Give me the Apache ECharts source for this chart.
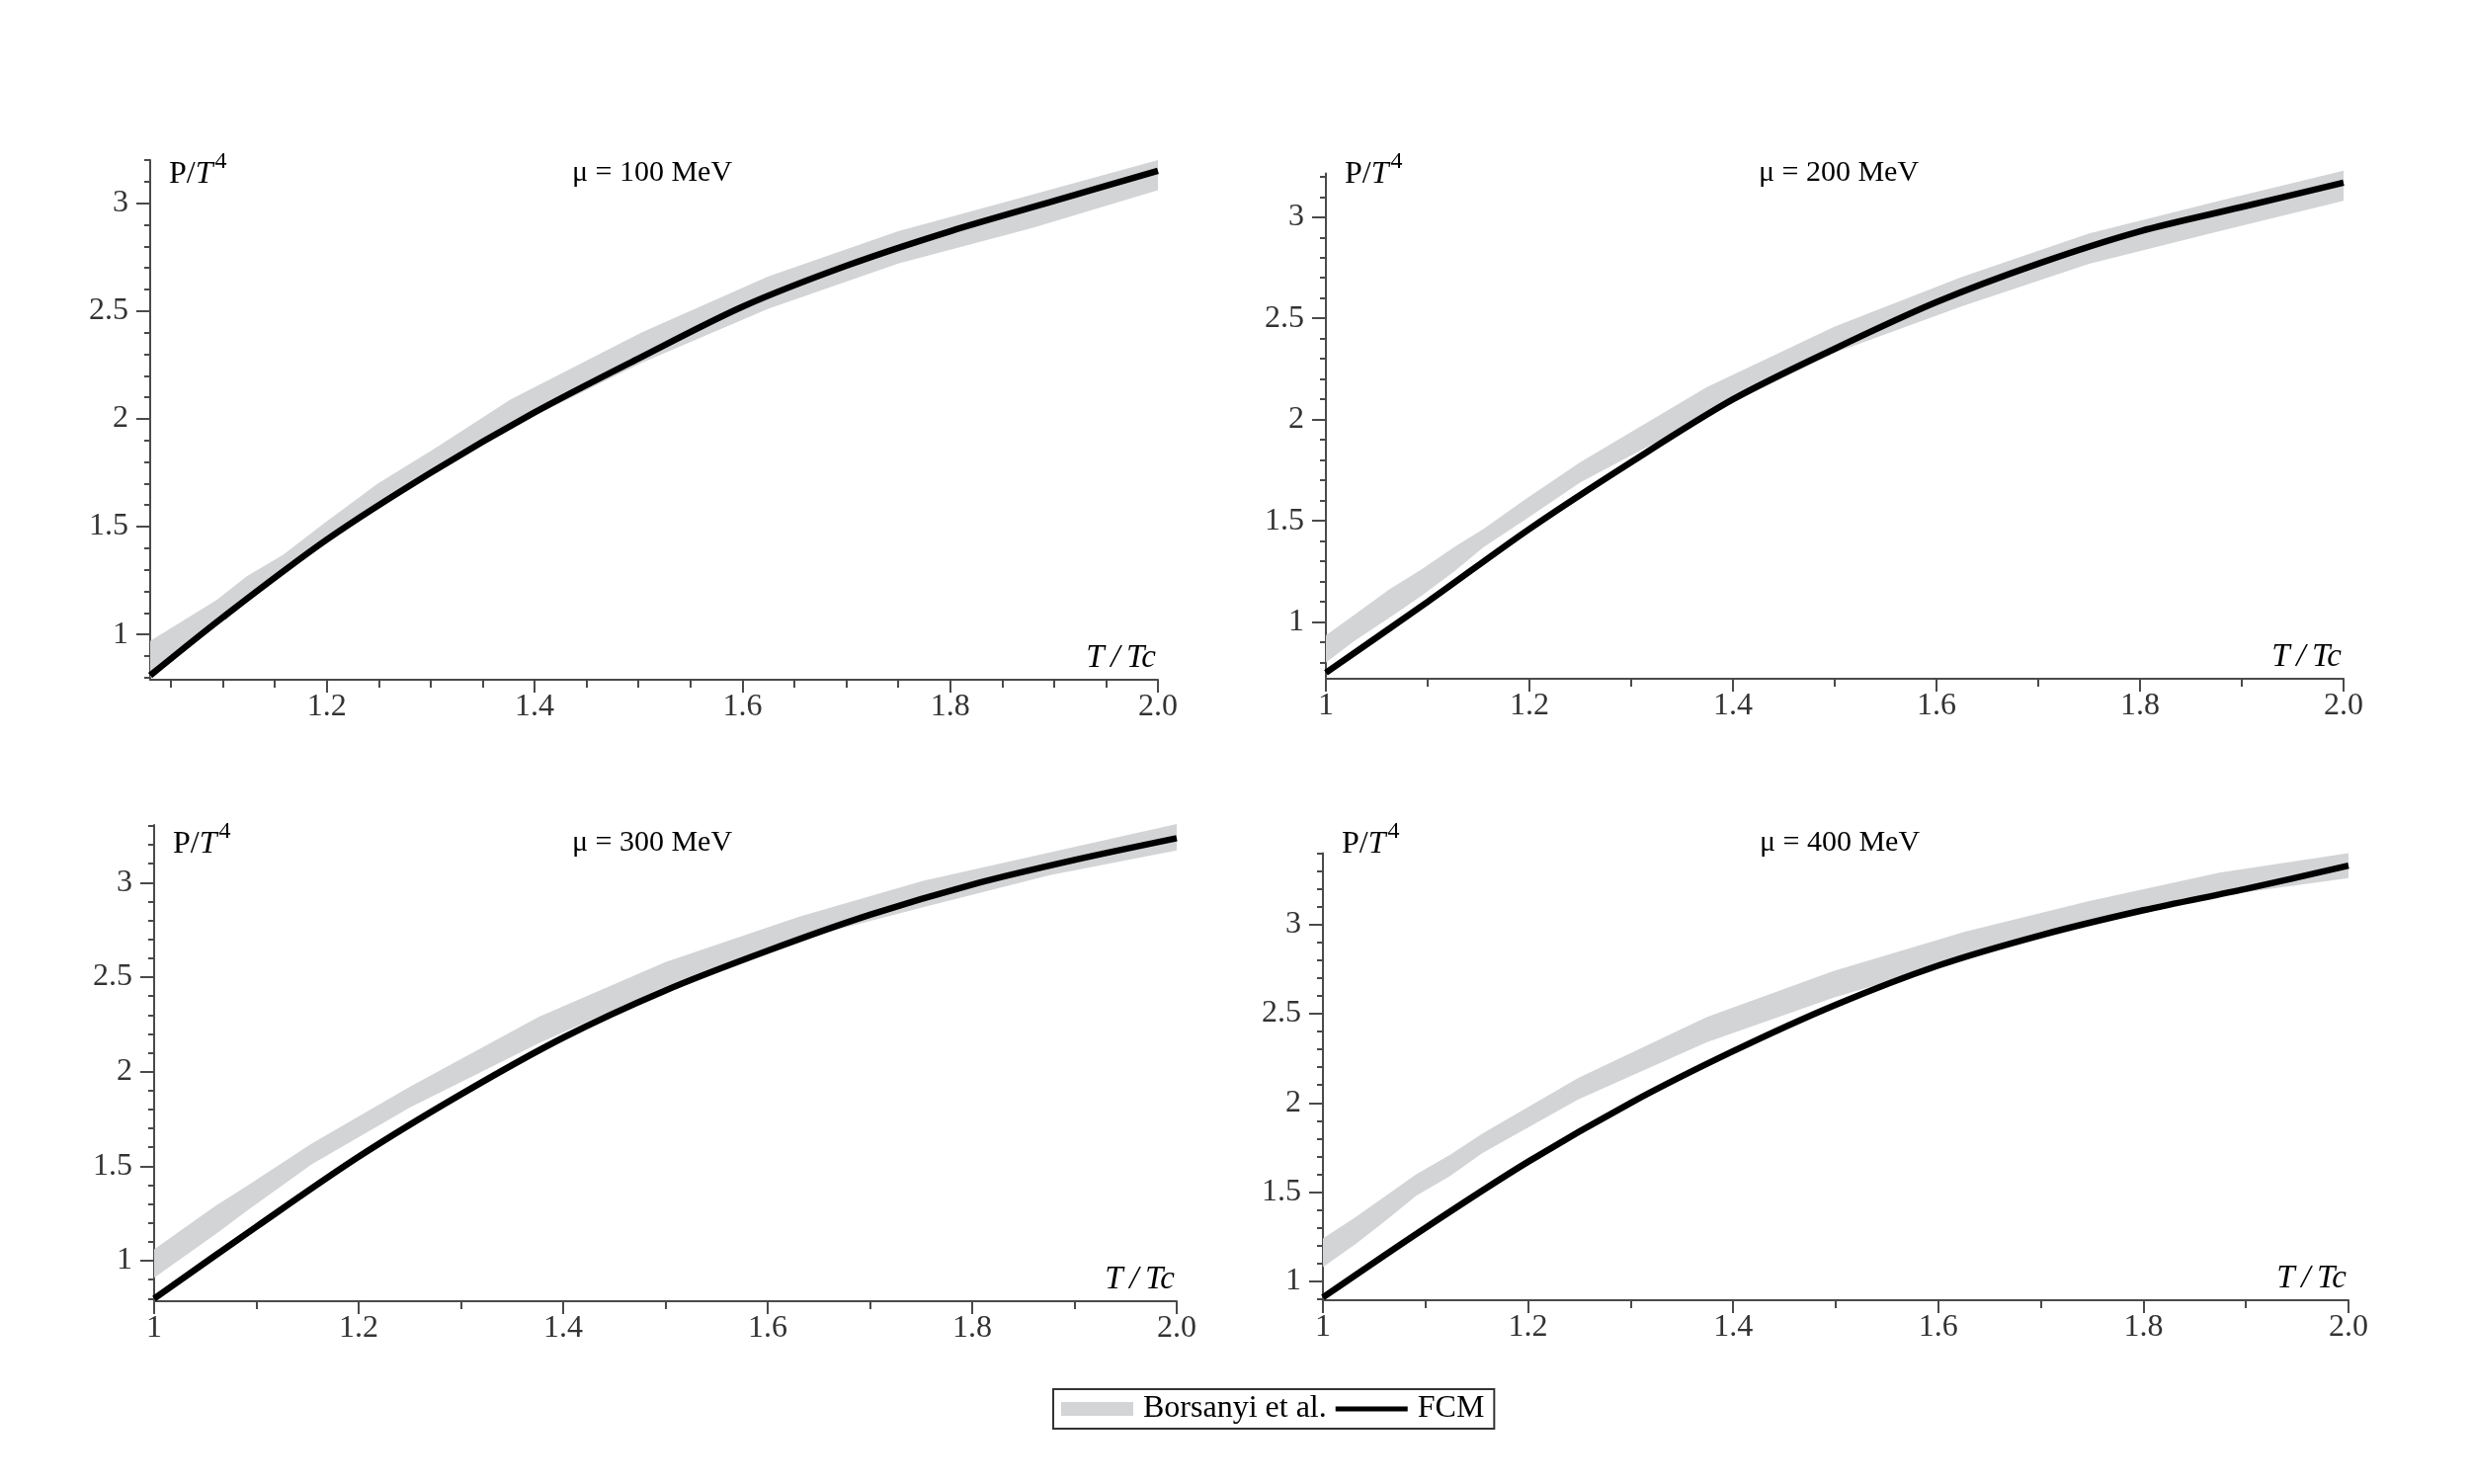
<!DOCTYPE html>
<html>
<head>
<meta charset="utf-8">
<script src="https://cdn.jsdelivr.net/npm/echarts@6/dist/echarts.min.js"></script>
<style>html,body{margin:0;padding:0;background:#fff}#c{width:2502px;height:1502px}</style>
</head>
<body>
<div id="c"></div>
<script>
// ---------------- data ----------------
const panelTitles = ['μ = 100 MeV', 'μ = 200 MeV', 'μ = 300 MeV', 'μ = 400 MeV'];

// FCM curves (T/Tc, P/T^4)
const fcmX_100 = [1.03, 1.1, 1.2, 1.3, 1.4, 1.5, 1.6, 1.7, 1.8, 1.9, 2.0];
const fcmY_100 = [0.81, 1.08, 1.44, 1.75, 2.03, 2.28, 2.52, 2.71, 2.87, 3.01, 3.15];
const fcmX_200 = [1.0, 1.1, 1.2, 1.3, 1.4, 1.5, 1.6, 1.7, 1.8, 1.9, 2.0];
const fcmY_200 = [0.75, 1.10, 1.46, 1.79, 2.10, 2.35, 2.58, 2.77, 2.93, 3.05, 3.17];
const fcmX_300 = [1.0, 1.1, 1.2, 1.3, 1.4, 1.5, 1.6, 1.7, 1.8, 1.9, 2.0];
const fcmY_300 = [0.80, 1.18, 1.55, 1.88, 2.18, 2.43, 2.64, 2.83, 2.99, 3.12, 3.235];
const fcmX_400 = [1.0, 1.1, 1.2, 1.3, 1.4, 1.5, 1.6, 1.7, 1.8, 1.9, 2.0];
const fcmY_400 = [0.91, 1.30, 1.67, 2.00, 2.29, 2.55, 2.77, 2.94, 3.08, 3.20, 3.33];

// Borsanyi et al. band (T/Tc, lower edge, upper edge)
const bandX_100  = [1.03, 1.094, 1.123, 1.158, 1.196, 1.249, 1.303, 1.377, 1.503, 1.625, 1.75, 1.879, 2.0];
const bandLo_100 = [0.80, 1.04, 1.15, 1.28, 1.42, 1.60, 1.76, 1.96, 2.26, 2.51, 2.72, 2.885, 3.06];
const bandUp_100 = [0.97, 1.16, 1.27, 1.37, 1.51, 1.70, 1.86, 2.09, 2.40, 2.66, 2.87, 3.04, 3.20];

const bandX_200  = [1.0, 1.029, 1.062, 1.094, 1.126, 1.155, 1.194, 1.25, 1.374, 1.5, 1.625, 1.75, 1.878, 2.0];
const bandLo_200 = [0.80, 0.91, 1.02, 1.13, 1.25, 1.37, 1.50, 1.69, 2.02, 2.33, 2.56, 2.77, 2.93, 3.08];
const bandUp_200 = [0.935, 1.04, 1.16, 1.26, 1.37, 1.46, 1.60, 1.79, 2.16, 2.46, 2.705, 2.92, 3.08, 3.23];

const bandX_300  = [1.0, 1.06, 1.092, 1.154, 1.25, 1.376, 1.5, 1.631, 1.752, 1.876, 2.0];
const bandLo_300 = [0.91, 1.14, 1.27, 1.51, 1.81, 2.15, 2.45, 2.70, 2.87, 3.04, 3.17];
const bandUp_300 = [1.06, 1.29, 1.40, 1.62, 1.92, 2.29, 2.58, 2.82, 3.01, 3.16, 3.31];

const bandX_400  = [1.0, 1.032, 1.059, 1.091, 1.124, 1.156, 1.249, 1.374, 1.498, 1.626, 1.746, 1.874, 2.0];
const bandLo_400 = [1.08, 1.21, 1.33, 1.48, 1.59, 1.72, 2.02, 2.34, 2.59, 2.81, 3.02, 3.16, 3.26];
const bandUp_400 = [1.24, 1.36, 1.47, 1.60, 1.71, 1.83, 2.14, 2.48, 2.74, 2.96, 3.13, 3.29, 3.40];

// axis ranges and ticks
const xMins = [1.03, 1.0, 1.0, 1.0];
const yMins = [0.79, 0.72, 0.786, 0.894];
const yMaxs = [3.20, 3.216, 3.305, 3.40];
const xMajorTL = [1.2, 1.4, 1.6, 1.8, 2.0];
const xMinorTL = [1.05, 1.1, 1.15, 1.25, 1.3, 1.35, 1.45, 1.5, 1.55, 1.65, 1.7, 1.75, 1.85, 1.9, 1.95];
const xMajor = [1.0, 1.2, 1.4, 1.6, 1.8, 2.0];
const xMinor = [1.1, 1.3, 1.5, 1.7, 1.9];
const yMajor = [1, 1.5, 2, 2.5, 3];
const yMinorAll = [0.8, 0.9, 1.1, 1.2, 1.3, 1.4, 1.6, 1.7, 1.8, 1.9, 2.1, 2.2, 2.3, 2.4, 2.6, 2.7, 2.8, 2.9, 3.1, 3.2, 3.3, 3.4];

const legendNames = ['Borsanyi et al.', 'FCM'];

// ---------------- layout / style ----------------
const grids = [
  { left: 152,  top: 162,   width: 1020, height: 526 },
  { left: 1342, top: 175.5, width: 1030, height: 511.5 },
  { left: 156,  top: 835,   width: 1035, height: 482 },
  { left: 1339, top: 863.5, width: 1038, height: 452.5 }
];
const titleX = [660, 1861, 660, 1862];
const rowY = [175, 175, 853, 853];
const FONT = 'Liberation Serif';
const AXIS_COLOR = '#4a4a4a';
const BAND_COLOR = '#d3d4d6';

const fcmX = [fcmX_100, fcmX_200, fcmX_300, fcmX_400];
const fcmY = [fcmY_100, fcmY_200, fcmY_300, fcmY_400];
const bandX = [bandX_100, bandX_200, bandX_300, bandX_400];
const bandLo = [bandLo_100, bandLo_200, bandLo_300, bandLo_400];
const bandUp = [bandUp_100, bandUp_200, bandUp_300, bandUp_400];

const pts = (xs, ys) => xs.map((x, k) => [x, ys[k]]);

// band polygon drawn through the axes' own coordinate conversion
function renderBand(params, api) {
  if (params.dataIndex !== 0) return null;
  const n = params.dataInsideLength;
  const upper = [], lower = [];
  for (let k = 0; k < n; k++) {
    const x = api.value(0, k);
    upper.push(api.coord([x, api.value(2, k)]));
    lower.push(api.coord([x, api.value(1, k)]));
  }
  const points = upper.concat(lower.reverse());
  return {
    type: 'polygon',
    shape: { points: points },
    style: { fill: BAND_COLOR, stroke: null },
    silent: true
  };
}

const xAxes = [], yAxes = [], series = [], graphics = [];
grids.forEach((g, i) => {
  const xMaj = i === 0 ? xMajorTL : xMajor;
  const xMin = i === 0 ? xMinorTL : xMinor;
  const yMin = yMinorAll.filter(v => v > yMins[i] && v <= yMaxs[i]);
  const common = { type: 'value', gridIndex: i, splitLine: { show: false } };
  xAxes.push(Object.assign({}, common, {
    min: xMins[i], max: 2, position: 'bottom',
    axisLine: { show: true, onZero: false, lineStyle: { color: AXIS_COLOR, width: 2 } },
    axisTick: { show: true, length: 13, customValues: xMaj, lineStyle: { color: AXIS_COLOR, width: 2 } },
    axisLabel: { show: true, customValues: xMaj, margin: 12, color: '#333', fontFamily: FONT, fontSize: 32,
      formatter: v => (v === 2 ? '2.0' : String(v)) }
  }));
  xAxes.push(Object.assign({}, common, {
    min: xMins[i], max: 2, position: 'bottom',
    axisLine: { show: false, onZero: false },
    axisTick: { show: true, length: 8, customValues: xMin, lineStyle: { color: AXIS_COLOR, width: 2 } },
    axisLabel: { show: false }
  }));
  yAxes.push(Object.assign({}, common, {
    min: yMins[i], max: yMaxs[i], position: 'left',
    axisLine: { show: true, onZero: false, lineStyle: { color: AXIS_COLOR, width: 2 } },
    axisTick: { show: true, length: 14, customValues: yMajor, lineStyle: { color: AXIS_COLOR, width: 2 } },
    axisLabel: { show: true, customValues: yMajor, margin: 22, color: '#333', fontFamily: FONT, fontSize: 32 }
  }));
  yAxes.push(Object.assign({}, common, {
    min: yMins[i], max: yMaxs[i], position: 'left',
    axisLine: { show: false, onZero: false },
    axisTick: { show: true, length: 6, customValues: yMin, lineStyle: { color: AXIS_COLOR, width: 2 } },
    axisLabel: { show: false }
  }));

  const ax = { xAxisIndex: 2 * i, yAxisIndex: 2 * i };
  series.push(Object.assign({
    type: 'custom', name: legendNames[0],
    data: bandX[i].map((x, k) => [x, bandLo[i][k], bandUp[i][k]]),
    encode: { x: 0, y: [1, 2] },
    renderItem: renderBand, silent: true, z: 1
  }, ax));
  series.push(Object.assign({
    type: 'line', name: legendNames[1],
    data: pts(fcmX[i], fcmY[i]), symbol: 'none', smooth: 0.3, silent: true,
    lineStyle: { color: '#000', width: 6.5 }, z: 3
  }, ax));

  graphics.push({
    type: 'text', x: titleX[i], y: rowY[i], z: 10,
    style: { text: panelTitles[i], fontFamily: FONT, fontSize: 30, fill: '#000', align: 'center', verticalAlign: 'middle' }
  });
  graphics.push({
    type: 'text', x: g.left + 19, y: rowY[i] + 2, z: 10,
    style: {
      text: '{a|P/}{i|T}{s|4}', verticalAlign: 'middle', align: 'left',
      rich: {
        a: { fontFamily: FONT, fontSize: 32, fill: '#000', lineHeight: 50 },
        i: { fontFamily: FONT, fontSize: 32, fontStyle: 'italic', fill: '#000', lineHeight: 50 },
        s: { fontFamily: FONT, fontSize: 24, fill: '#000', lineHeight: 24, verticalAlign: 'top', padding: [0, 0, 0, 2] }
      }
    }
  });
  graphics.push({
    type: 'text', x: g.left + g.width - 2, y: g.top + g.height - 5, z: 10,
    style: { text: 'T\u2009/\u2009Tc', fontFamily: FONT, fontStyle: 'italic', fontSize: 33, fill: '#000', align: 'right', verticalAlign: 'bottom' }
  });
});

const chart = echarts.init(document.getElementById('c'), null, { renderer: 'canvas' });
chart.setOption({
  backgroundColor: '#fff',
  animation: false,
  grid: grids.map(g => Object.assign({ containLabel: false }, g)),
  xAxis: xAxes,
  yAxis: yAxes,
  series: series,
  graphic: { elements: graphics },
  legend: {
    left: 1066, top: 1406,
    padding: [4, 10, 4, 8],
    itemGap: 9, itemWidth: 73, itemHeight: 14,
    borderColor: '#333', borderWidth: 2, backgroundColor: '#fff',
    selectedMode: false,
    textStyle: { fontFamily: FONT, fontSize: 32, color: '#000', padding: [0, 0, 0, 5] },
    data: [
      { name: legendNames[0], icon: 'rect', itemStyle: { color: BAND_COLOR, opacity: 1 } },
      { name: legendNames[1], icon: 'path://M0,0 H73 V5 H0 Z', itemStyle: { color: '#000', opacity: 1 } }
    ]
  }
});
</script>
</body>
</html>
